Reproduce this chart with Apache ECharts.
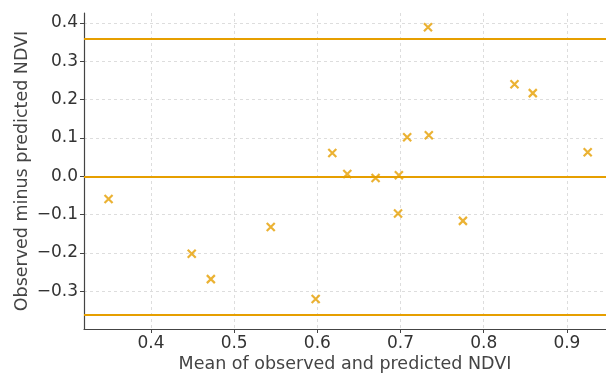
<!DOCTYPE html>
<html>
<head>
    <meta charset="UTF-8">
    <title>Bland-Altman NDVI</title>
    <style>
        html, body { margin: 0; padding: 0; background: #fff; }
        #chart { width: 606px; height: 373px; }
    </style>
</head>
<body>
    <div id="chart"></div>
    <script src="https://cdn.jsdelivr.net/npm/echarts@6/dist/echarts.min.js"></script>
    <script>
        // mean of observed and predicted
        var meanVals = [0.349, 0.449, 0.472, 0.544, 0.598, 0.618, 0.636, 0.670, 0.697, 0.698,
                        0.708, 0.733, 0.734, 0.775, 0.837, 0.859, 0.925];
        // observed minus predicted
        var diffVals = [-0.059, -0.202, -0.268, -0.132, -0.320, 0.061, 0.006, -0.004, -0.097, 0.003,
                        0.102, 0.389, 0.107, -0.116, 0.240, 0.217, 0.063];
        var meanDiff = 0.0;
        var limits = [0.362, -0.362];
        var xTicks = [0.4, 0.5, 0.6, 0.7, 0.8, 0.9];
        var yTicks = [-0.3, -0.2, -0.1, 0.0, 0.1, 0.2, 0.3, 0.4];

        var orange = '#E69F00';
        var font = 'DejaVu Sans';

        var points = meanVals.map(function (m, i) { return [m, diffVals[i]]; });

        var option = {
            animation: false,
            grid: { left: 84, right: 0, top: 13, bottom: 44, outerBoundsMode: 'none', containLabel: false },
            xAxis: {
                type: 'value',
                min: 0.3195, max: 0.947,
                name: 'Mean of observed and predicted NDVI',
                nameLocation: 'middle',
                nameGap: 26,
                nameMoveOverlap: false,
                nameTextStyle: { fontFamily: font, fontSize: 17.5, color: '#444' },
                axisLine: { onZero: false, lineStyle: { color: '#444', width: 1.2 } },
                axisTick: { show: true, length: 4, customValues: xTicks, lineStyle: { color: '#444' } },
                axisLabel: {
                    customValues: xTicks, fontFamily: font, fontSize: 17, color: '#333', margin: 6,
                    formatter: function (v) { return v.toFixed(1); }
                },
                splitLine: { show: true, lineStyle: { color: '#ddd', type: [3, 3] } }
            },
            yAxis: {
                type: 'value',
                min: -0.398, max: 0.426,
                name: 'Observed minus predicted NDVI',
                nameLocation: 'middle',
                nameGap: 53,
                nameMoveOverlap: false,
                nameTextStyle: { fontFamily: font, fontSize: 17.5, color: '#444' },
                axisLine: { show: true, onZero: false, lineStyle: { color: '#444', width: 1.2 } },
                axisTick: { show: true, length: 4, customValues: yTicks, lineStyle: { color: '#444' } },
                axisLabel: {
                    customValues: yTicks, fontFamily: font, fontSize: 17, color: '#333', margin: 6,
                    formatter: function (v) { return v.toFixed(1).replace('-', '\u2212'); }
                },
                splitLine: { show: true, lineStyle: { color: '#ddd', type: [3, 3] } }
            },
            series: [{
                type: 'scatter',
                data: points,
                symbol: 'path://M0 0L10 10M10 0L0 10',
                symbolSize: 8,
                itemStyle: { color: 'transparent', borderColor: orange, borderWidth: 2.2 },
                markLine: {
                    silent: true,
                    symbol: 'none',
                    label: { show: false },
                    lineStyle: { color: orange, type: 'solid', width: 2 },
                    data: [{ yAxis: limits[0] }, { yAxis: meanDiff }, { yAxis: limits[1] }]
                }
            }]
        };

        var chart = echarts.init(document.getElementById('chart'));
        chart.setOption(option);
    </script>
</body>
</html>
